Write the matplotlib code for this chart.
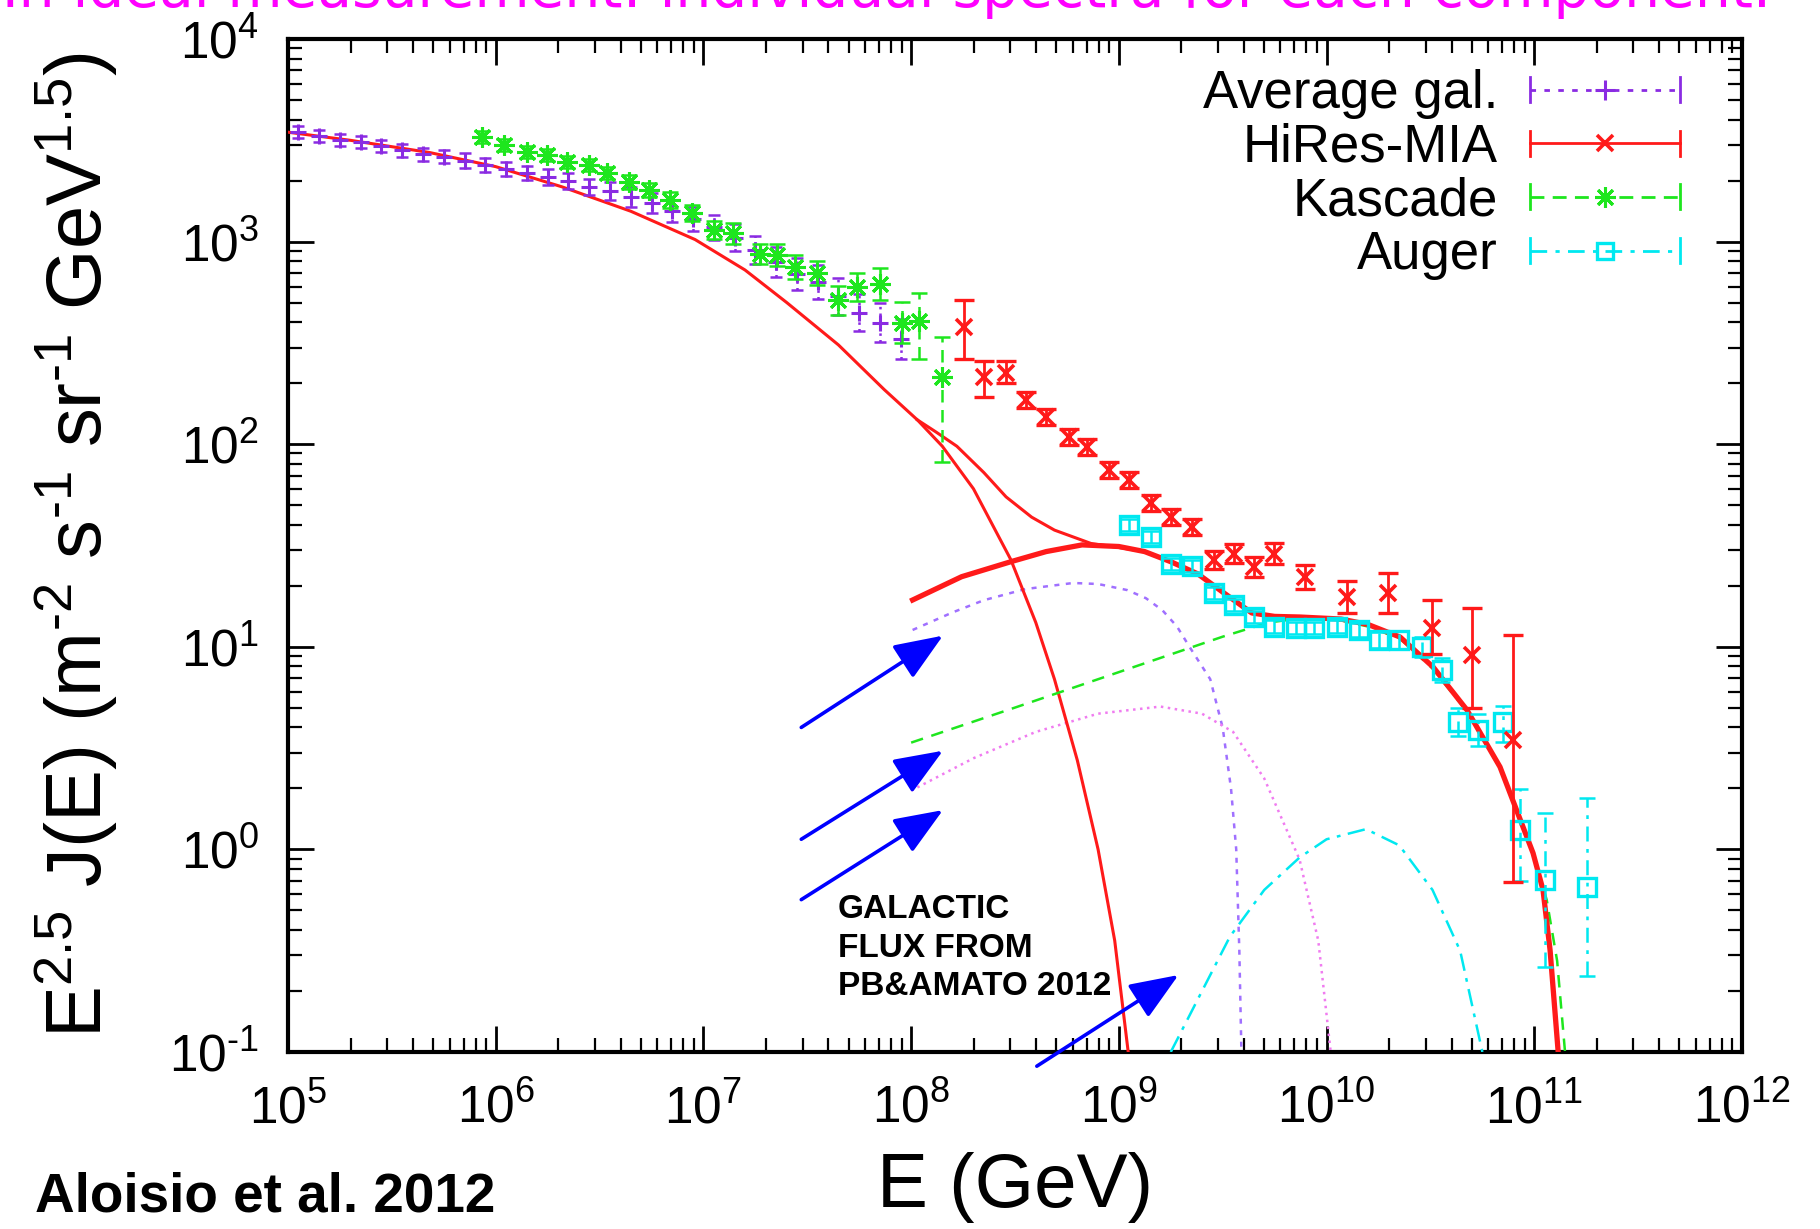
import numpy as np
import matplotlib
matplotlib.use('Agg')
import matplotlib.pyplot as plt
from matplotlib.lines import Line2D
from matplotlib.legend_handler import HandlerBase
from matplotlib.ticker import FuncFormatter, NullFormatter

plt.rcParams['font.family'] = ['Liberation Sans', 'DejaVu Sans']
plt.rcParams['mathtext.fontset'] = 'custom'
plt.rcParams['mathtext.rm'] = 'Liberation Sans'
plt.rcParams['mathtext.it'] = 'Liberation Sans:italic'
plt.rcParams['mathtext.bf'] = 'Liberation Sans:bold'
plt.rcParams['mathtext.default'] = 'regular'
plt.rcParams['axes.unicode_minus'] = False

# ---------------- data: log10 values ----------------
# Average galactic spectrum (points, dotted error bars)
avg_logE = [4.95, 5.05, 5.15, 5.25, 5.35, 5.45, 5.55, 5.65, 5.75, 5.85, 5.95,
            6.05, 6.15, 6.25, 6.35, 6.45, 6.55, 6.65, 6.75, 6.85, 6.95, 7.05,
            7.15, 7.25, 7.35, 7.45, 7.55, 7.65, 7.75, 7.85, 7.95]
avg_logF = [3.56, 3.54, 3.52, 3.50, 3.49, 3.47, 3.45, 3.43, 3.42, 3.40, 3.38,
            3.36, 3.34, 3.32, 3.30, 3.27, 3.25, 3.22, 3.19, 3.15, 3.11, 3.07,
            3.02, 2.96, 2.90, 2.84, 2.80, 2.73, 2.65, 2.60, 2.52]
avg_err = [0.03, 0.03, 0.03, 0.03, 0.03, 0.03, 0.03, 0.03, 0.03, 0.035, 0.035,
           0.035, 0.035, 0.04, 0.04, 0.04, 0.045, 0.05, 0.05, 0.055, 0.06, 0.06,
           0.065, 0.07, 0.075, 0.08, 0.085, 0.09, 0.09, 0.095, 0.10]

# HiRes-MIA
hires_logE = [8.254, 8.351, 8.457, 8.553, 8.65, 8.76, 8.845, 8.953, 9.05, 9.155,
              9.251, 9.35, 9.458, 9.555, 9.65, 9.747, 9.896, 10.10, 10.296,
              10.506, 10.698, 10.898]
hires_logF = [2.58, 2.333, 2.35, 2.218, 2.136, 2.037, 1.988, 1.873, 1.823, 1.71,
              1.642, 1.593, 1.428, 1.46, 1.395, 1.46, 1.346, 1.247, 1.265,
              1.093, 0.96, 0.54]
hires_lo = [0.16, 0.10, 0.05, 0.04, 0.04, 0.04, 0.04, 0.04, 0.04, 0.04, 0.04,
            0.04, 0.045, 0.045, 0.05, 0.05, 0.06, 0.08, 0.10, 0.13, 0.26, 0.70]
hires_hi = [0.13, 0.08, 0.06, 0.04, 0.04, 0.04, 0.04, 0.04, 0.04, 0.04, 0.04,
            0.04, 0.045, 0.045, 0.05, 0.05, 0.06, 0.08, 0.10, 0.14, 0.23, 0.52]

# Kascade
kas_logE = [5.935, 6.04, 6.15, 6.247, 6.343, 6.45, 6.536, 6.644, 6.74, 6.837,
            6.945, 7.05, 7.14, 7.27, 7.353, 7.44, 7.547, 7.65, 7.74, 7.85,
            7.955, 8.04, 8.15]
kas_logF = [3.518, 3.477, 3.444, 3.427, 3.394, 3.378, 3.34, 3.296, 3.255, 3.205,
            3.14, 3.057, 3.04, 2.94, 2.934, 2.876, 2.845, 2.71, 2.776, 2.79,
            2.60, 2.61, 2.33]
kas_lo = [0.03, 0.03, 0.03, 0.03, 0.03, 0.03, 0.03, 0.035, 0.035, 0.04, 0.04,
          0.045, 0.05, 0.05, 0.055, 0.06, 0.06, 0.07, 0.07, 0.08, 0.10, 0.19, 0.42]
kas_hi = [0.03, 0.03, 0.03, 0.03, 0.03, 0.03, 0.03, 0.035, 0.035, 0.04, 0.04,
          0.045, 0.05, 0.05, 0.055, 0.06, 0.06, 0.07, 0.07, 0.08, 0.10, 0.135, 0.20]

# Auger
aug_logE = [9.05, 9.155, 9.25, 9.35, 9.458, 9.555, 9.65, 9.747, 9.853, 9.94,
            10.05, 10.156, 10.253, 10.35, 10.458, 10.555, 10.633, 10.73, 10.85,
            10.93, 11.05, 11.253]
aug_logF = [1.60, 1.543, 1.41, 1.40, 1.265, 1.206, 1.148, 1.10, 1.093, 1.093,
            1.10, 1.083, 1.035, 1.035, 1.0, 0.886, 0.63, 0.59, 0.63,
            0.096, -0.15, -0.184]
aug_lo = [0.03, 0.03, 0.03, 0.03, 0.03, 0.03, 0.03, 0.03, 0.03, 0.03, 0.03,
          0.035, 0.04, 0.045, 0.05, 0.06, 0.07, 0.08, 0.10, 0.25, 0.43, 0.44]
aug_hi = [0.03, 0.03, 0.03, 0.03, 0.03, 0.03, 0.03, 0.03, 0.03, 0.03, 0.03,
          0.035, 0.04, 0.045, 0.05, 0.06, 0.07, 0.08, 0.08, 0.20, 0.33, 0.44]

# model curves
gal_logE = [5.0, 5.3, 5.68, 6.0, 6.32, 6.65, 6.96, 7.2, 7.40, 7.65, 7.87, 8.03,
            8.15, 8.3, 8.48, 8.6, 8.69, 8.8, 8.9, 8.98, 9.045]
gal_logF = [3.54, 3.50, 3.44, 3.37, 3.27, 3.15, 3.01, 2.86, 2.70, 2.49, 2.27, 2.12,
            1.99, 1.78, 1.43, 1.12, 0.84, 0.44, 0.0, -0.45, -1.0]
tot_logE = [8.03, 8.12, 8.22, 8.35, 8.457, 8.58, 8.69, 8.866, 9.0, 9.124]
tot_logF = [2.12, 2.06, 1.99, 1.86, 1.74, 1.64, 1.576, 1.51, 1.49, 1.47]
eg_logE = [8.007, 8.243, 8.48, 8.65, 8.823, 9.0, 9.124, 9.25, 9.38, 9.5, 9.64,
           9.75, 9.872, 10.07, 10.2, 10.354, 10.513, 10.676, 10.835, 10.994,
           11.042, 11.076, 11.115]
eg_logF = [1.231, 1.346, 1.42, 1.47, 1.503, 1.495, 1.47, 1.42, 1.36, 1.27, 1.167,
           1.15, 1.147, 1.137, 1.11, 1.048, 0.90, 0.688, 0.407, -0.018,
           -0.2, -0.497, -1.0]
c1_logE = [8.007, 8.2, 8.35, 8.55, 8.78, 8.9, 9.04, 9.13, 9.21, 9.28, 9.34, 9.44,
           9.5, 9.54, 9.565, 9.58, 9.59]
c1_logF = [1.083, 1.17, 1.23, 1.285, 1.315, 1.31, 1.28, 1.24, 1.18, 1.10, 1.0,
           0.84, 0.6, 0.3, 0.0, -0.5, -1.0]
c2_logE = [8.0, 8.5, 9.0, 9.5, 9.72, 9.872, 10.07, 10.2, 10.354, 10.513, 10.676,
           10.835, 10.994, 11.06, 11.11, 11.148]
c2_logF = [0.527, 0.70, 0.875, 1.05, 1.12, 1.14, 1.13, 1.10, 1.04, 0.89, 0.68,
           0.40, -0.02, -0.25, -0.55, -1.0]
c3_logE = [8.0, 8.3, 8.6, 8.9, 9.2, 9.4, 9.55, 9.7, 9.87, 9.96, 10.02]
c3_logF = [0.29, 0.45, 0.58, 0.67, 0.705, 0.67, 0.58, 0.35, -0.05, -0.45, -1.0]
c4_logE = [9.25, 9.4, 9.535, 9.7, 9.87, 10.0, 10.19, 10.35, 10.51, 10.643, 10.75]
c4_logF = [-1.0, -0.7, -0.43, -0.2, -0.04, 0.05, 0.10, 0.02, -0.2, -0.5, -1.0]

# annotation arrows: (start logE, start logF, end logE, end logF)
arrows = [(7.471, 0.602, 8.153, 1.055),
          (7.471, 0.050, 8.153, 0.487),
          (7.471, -0.248, 8.153, 0.194),
          (8.605, -1.07, 9.287, -0.62)]

legend_labels = ['Average gal.', 'HiRes-MIA', 'Kascade', 'Auger']

# ---------------- colours / styles ----------------
C_AVG = '#8a2be2'
C_RED = '#ff1a1a'
C_GRN = '#1ee61e'
C_CYN = '#00e8f0'
C_C1 = '#a070ff'
C_C3 = '#f07cf0'
ASTER = (8, 2, 0)
HY = '\u2010'   # short hyphen used as minus sign, as in the original


def P(v):
    return 10 ** np.asarray(v, dtype=float)


def yerr(logF, lo, hi):
    F = P(logF)
    return F, np.vstack([F - F * 10 ** (-np.asarray(lo)), F * 10 ** np.asarray(hi) - F])


fig = plt.figure(figsize=(18.2, 12.29), dpi=100)
ax = fig.add_axes([288 / 1820, 1 - 1052 / 1229, (1742 - 288) / 1820, (1052 - 39) / 1229])
ax.set_xscale('log')
ax.set_yscale('log')
ax.set_xlim(1e5, 1e12)
ax.set_ylim(1e-1, 1e4)

# model curves
ax.plot(P(gal_logE), P(gal_logF), color=C_RED, lw=2.2, zorder=4)
ax.plot(P(tot_logE), P(tot_logF), color=C_RED, lw=2.2, zorder=4)
ax.plot(P(eg_logE), P(eg_logF), color=C_RED, lw=3.8, zorder=5)
ax.plot(P(c1_logE), P(c1_logF), color=C_C1, lw=1.8, dashes=(2, 2.6), zorder=3)
ax.plot(P(c2_logE), P(c2_logF), color=C_GRN, lw=1.8, dashes=(5, 3.5), zorder=4)
ax.plot(P(c3_logE), P(c3_logF), color=C_C3, lw=1.8, dashes=(1, 1.8), zorder=3)
ax.plot(P(c4_logE), P(c4_logF), color=C_CYN, lw=1.8, dashes=(7, 3, 1.5, 3), zorder=3)

# data
F, e = yerr(avg_logF, avg_err, avg_err)
eb = ax.errorbar(P(avg_logE), F, yerr=e, fmt='none', ecolor=C_AVG,
                 elinewidth=1.8, capsize=4.5, capthick=1.8, zorder=6)
eb[2][0].set_linestyle(':')
ax.plot(P(avg_logE), F, ls='none', marker='+', color=C_AVG, ms=12, mew=2.2, zorder=6)

F, e = yerr(kas_logF, kas_lo, kas_hi)
eb = ax.errorbar(P(kas_logE), F, yerr=e, fmt='none', ecolor=C_GRN,
                 elinewidth=1.8, capsize=5.5, capthick=1.8, zorder=7)
eb[2][0].set_linestyle((0, (5, 3)))
ax.plot(P(kas_logE), F, ls='none', marker=ASTER, color=C_GRN, ms=15, mew=2.2, zorder=7)

F, e = yerr(hires_logF, hires_lo, hires_hi)
ax.errorbar(P(hires_logE), F, yerr=e, fmt='none', ecolor=C_RED,
            elinewidth=2.0, capsize=7.5, capthick=2.4, zorder=8)
ax.plot(P(hires_logE), F, ls='none', marker='x', color=C_RED, ms=12, mew=2.6, zorder=8)

F, e = yerr(aug_logF, aug_lo, aug_hi)
eb = ax.errorbar(P(aug_logE), F, yerr=e, fmt='none', ecolor=C_CYN,
                 elinewidth=1.8, capsize=5.5, capthick=1.8, zorder=6)
eb[2][0].set_linestyle((0, (6, 3, 1.5, 3)))
ax.plot(P(aug_logE), F, ls='none', marker='s', color=C_CYN, mfc='none', ms=13,
        mew=2.4, zorder=6)

# arrows
for x0, y0, x1, y1 in arrows:
    ax.annotate('', xy=(10 ** x1, 10 ** y1), xytext=(10 ** x0, 10 ** y0),
                arrowprops=dict(arrowstyle='-|>,head_length=0.6,head_width=0.24',
                                color='#0000ff', lw=2.6, mutation_scale=50,
                                shrinkA=0, shrinkB=0),
                annotation_clip=False, zorder=9)

# axes styling
for s in ax.spines.values():
    s.set_linewidth(3)


def dec_fmt(v, pos):
    n = int(round(np.log10(v)))
    return '$10^{%s}$' % str(n).replace('-', HY)


ax.xaxis.set_major_formatter(FuncFormatter(dec_fmt))
ax.yaxis.set_major_formatter(FuncFormatter(dec_fmt))
ax.xaxis.set_minor_formatter(NullFormatter())
ax.yaxis.set_minor_formatter(NullFormatter())
ax.tick_params(which='both', direction='in', top=True, right=True)
ax.tick_params(which='major', length=19, width=2.0, labelsize=37)
ax.tick_params(which='minor', length=10, width=1.6)
ax.tick_params(axis='x', which='major', pad=23)
ax.tick_params(axis='y', which='major', pad=21)

ax.set_xlabel('E (GeV)', fontsize=55)
ax.xaxis.label.set_va('baseline')
ax.xaxis.set_label_coords(0.5, -(1207 - 1052) / 1013)
ax.set_ylabel('E$^{2.5}$ J(E) (m$^{%s2}$ s$^{%s1}$ sr$^{%s1}$ GeV$^{1.5}$)' % (HY, HY, HY),
              fontsize=56)
ax.yaxis.label.set_va('baseline')
ax.yaxis.set_label_coords(-(288 - 102) / 1454, 0.5)


# gnuplot-like key
class KeyHandler(HandlerBase):
    def __init__(self, color, ls, marker, ms, mew, mfc=None):
        super().__init__()
        self.color, self.ls, self.marker = color, ls, marker
        self.ms, self.mew, self.mfc = ms, mew, mfc

    def create_artists(self, legend, orig_handle, xdescent, ydescent, width,
                       height, fontsize, trans):
        y = 0.5 * height - ydescent
        x0, x1 = -xdescent, -xdescent + width
        c = 0.34 * height
        arts = [Line2D([x0, x1], [y, y], color=self.color, ls=self.ls, lw=2.0),
                Line2D([x0, x0], [y - c, y + c], color=self.color, lw=2.0),
                Line2D([x1, x1], [y - c, y + c], color=self.color, lw=2.0),
                Line2D([0.5 * (x0 + x1)], [y], marker=self.marker, ms=self.ms,
                       mew=self.mew, color=self.color,
                       mfc=self.mfc if self.mfc else self.color, ls='none')]
        for a in arts:
            a.set_transform(trans)
        return arts


proxies = [Line2D([], []) for _ in legend_labels]
handlers = {proxies[0]: KeyHandler(C_AVG, (0, (2, 3)), '+', 14, 2.2),
            proxies[1]: KeyHandler(C_RED, '-', 'x', 12, 2.6),
            proxies[2]: KeyHandler(C_GRN, (0, (5, 3)), ASTER, 15, 2.2),
            proxies[3]: KeyHandler(C_CYN, (0, (6, 3, 1.5, 3)), 's', 12, 2.4, 'none')}
ax.legend(proxies, legend_labels, handler_map=handlers, loc='upper right',
          bbox_to_anchor=((1680 - 288) / 1454, 1 - (69 - 39) / 1013),
          frameon=False, markerfirst=False, fontsize=38, handlelength=2.85,
          handletextpad=0.6, labelspacing=0.07, borderaxespad=0, borderpad=0)

# texts
fig.text(838 / 1820, 1 - 894 / 1229, 'GALACTIC\nFLUX FROM\nPB&AMATO 2012',
         fontsize=24, fontweight='bold', va='top', ha='left', linespacing=1.32)
fig.text(35 / 1820, 1 - 1211 / 1229, 'Aloisio et al. 2012', fontsize=39.5,
         fontweight='bold', va='baseline', ha='left')
fig.text(1771 / 1820, 1 - 7 / 1229,
         'In ideal measurement: individual spectra for each component.',
         fontsize=40.8, color='#ff00ff', va='baseline', ha='right',
         family=['DejaVu Sans'])

fig.savefig('out.png', dpi=100)
